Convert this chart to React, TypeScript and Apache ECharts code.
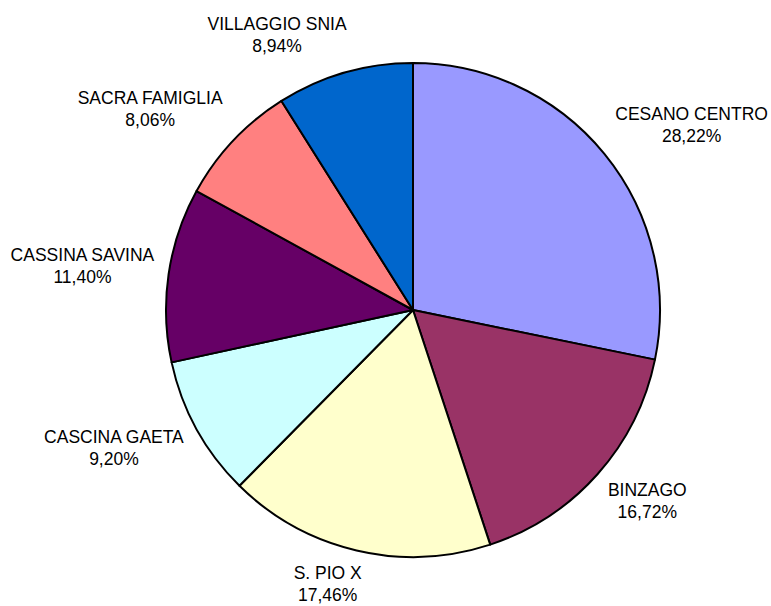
import React, { useEffect, useRef } from "react";
import * as echarts from "echarts";

const categories = [
  "CESANO CENTRO",
  "BINZAGO",
  "S. PIO X",
  "CASCINA GAETA",
  "CASSINA SAVINA",
  "SACRA FAMIGLIA",
  "VILLAGGIO SNIA",
];
const shares = [28.22, 16.72, 17.46, 9.2, 11.4, 8.06, 8.94];
const colors = ["#9999FF", "#993366", "#FFFFCC", "#CCFFFF", "#660066", "#FF8080", "#0066CC"];

const CX = 413;
const CY = 310;
const R = 247;
const GAP = 14;
const KX = 3.3;
const KY = 1.3;
const LABEL_DY = -2;

const fmt = (v: number) => v.toFixed(2).replace(".", ",") + "%";

export default function App() {
  const ref = useRef<HTMLDivElement>(null);
  useEffect(() => {
    if (!ref.current) return;
    const chart = echarts.init(ref.current, null, { renderer: "svg" });
    const total = shares.reduce((a, b) => a + b, 0);
    const clamp = (v: number) => Math.max(-1, Math.min(1, v));
    chart.setOption({
      animation: false,
      backgroundColor: "#ffffff",
      series: [
        {
          type: "pie",
          center: [CX, CY],
          radius: [0, R],
          startAngle: 90,
          clockwise: true,
          avoidLabelOverlap: false,
          data: categories.map((name, i) => ({
            name,
            value: shares[i],
            itemStyle: { color: colors[i] },
          })),
          itemStyle: { borderColor: "#000000", borderWidth: 2 },
          emphasis: { disabled: true },
          label: {
            show: true,
            position: "outside",
            formatter: (p: any) => `${p.name}\n${fmt(p.value)}`,
            color: "#000000",
            fontSize: 17.5,
            lineHeight: 22,
            fontFamily: "'Liberation Sans', Arial, Helvetica, sans-serif",
            align: "center",
          },
          labelLine: { show: false },
          labelLayout: (params: any) => {
            const i = params.dataIndex;
            let before = 0;
            for (let j = 0; j < i; j++) before += shares[j];
            const mid = ((before + shares[i] / 2) / total) * Math.PI * 2;
            const s = Math.sin(mid);
            const c = Math.cos(mid);
            const r = R + GAP;
            const ax = CX + r * s;
            const ay = CY - r * c;
            const w = params.labelRect.width;
            const h = params.labelRect.height;
            return {
              x: ax + clamp(KX * s) * (w / 2),
              y: ay + clamp(-KY * c) * (h / 2) + LABEL_DY,
              align: "center",
              verticalAlign: "middle",
            };
          },
        },
      ],
    });
    return () => chart.dispose();
  }, []);
  return (
    <div
      ref={ref}
      style={{ position: "fixed", left: 0, top: 0, width: 771, height: 606, background: "#fff" }}
    />
  );
}
